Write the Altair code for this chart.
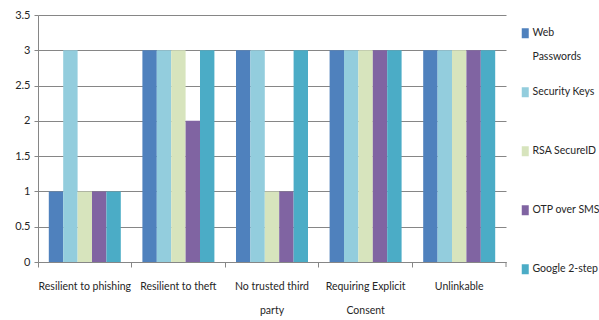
import altair as alt
import pandas as pd

categories = ["Resilient to phishing", "Resilient to theft", "No trusted third party",
              "Requiring Explicit Consent", "Unlinkable"]
series = ["Web Passwords", "Security Keys", "RSA SecureID", "OTP over SMS", "Google 2-step"]
colors = ["#4F81BD", "#93CDDD", "#D7E4BD", "#8064A2", "#4BACC6"]
web_passwords = [1, 3, 3, 3, 3]
security_keys = [3, 3, 3, 3, 3]
rsa_secureid = [1, 3, 1, 3, 3]
otp_over_sms = [1, 2, 1, 3, 3]
google_2step = [1, 3, 3, 3, 3]
y_ticks = [0, 0.5, 1, 1.5, 2, 2.5, 3, 3.5]

values = [web_passwords, security_keys, rsa_secureid, otp_over_sms, google_2step]
rows = []
for s, vals in zip(series, values):
    for c, v in zip(categories, vals):
        rows.append({"category": c, "series": s, "value": v})
df = pd.DataFrame(rows)

FONT = "Lato"
FS = 10.5
GRAY = "#868686"
TXT = "#262626"

x_label_expr = (
    "datum.label == 'No trusted third party' ? ['No trusted third', 'party'] : "
    "datum.label == 'Requiring Explicit Consent' ? ['Requiring Explicit', 'Consent'] : datum.label"
)
legend_label_expr = "datum.label == 'Web Passwords' ? ['Web', 'Passwords'] : [datum.label, ' ']"

bars = alt.Chart(df).mark_bar(stroke=None).encode(
    x=alt.X("category:N", sort=categories, title=None,
            scale=alt.Scale(paddingInner=0, paddingOuter=0),
            axis=alt.Axis(labelAngle=0, bandPosition=0, labelExpr=x_label_expr,
                          labelLineHeight=24, labelPadding=14, tickSize=5,
                          grid=False, domainColor=GRAY, tickColor=GRAY,
                          labelFont=FONT, labelFontSize=FS, labelColor=TXT,
                          labelBaseline="top")),
    xOffset=alt.XOffset("series:N", sort=series,
                        scale=alt.Scale(paddingInner=0, paddingOuter=0.75)),
    y=alt.Y("value:Q", title=None,
            scale=alt.Scale(domain=[0, 3.5], nice=False),
            axis=alt.Axis(values=y_ticks, format="~g", grid=True, gridColor=GRAY, gridWidth=1,
                          domainColor=GRAY, tickColor=GRAY, tickSize=4,
                          labelFont=FONT, labelFontSize=FS + 0.5, labelColor=TXT,
                          labelPadding=4)),
    color=alt.Color("series:N", sort=series,
                    scale=alt.Scale(domain=series, range=colors),
                    legend=alt.Legend(title=None, orient="none", legendX=482, legendY=13,
                                      labelExpr=legend_label_expr,
                                      labelFont=FONT, labelFontSize=FS, labelColor=TXT,
                                      labelBaseline="middle",
                                      symbolType="M-0.7,-1H0.7V1H-0.7Z", symbolSize=100,
                                      symbolStrokeWidth=0, labelOffset=2,
                                      rowPadding=24)),
)

end_tick = alt.Chart(pd.DataFrame({"a": [0]})).mark_rule(color=GRAY).encode(
    x=alt.value(468), y=alt.value(247), y2=alt.value(252)
)

chart = alt.layer(bars, end_tick).properties(
    width=468, height=247,
    autosize=alt.AutoSizeParams(type="none"),
    padding={"left": 38, "top": 15, "right": 93, "bottom": 58},
).configure(background="white", style={"guide-label": {"lineHeight": 24}}
).configure_view(stroke=None)

chart.save("out.html", embed_options={"renderer": "svg", "actions": False})
